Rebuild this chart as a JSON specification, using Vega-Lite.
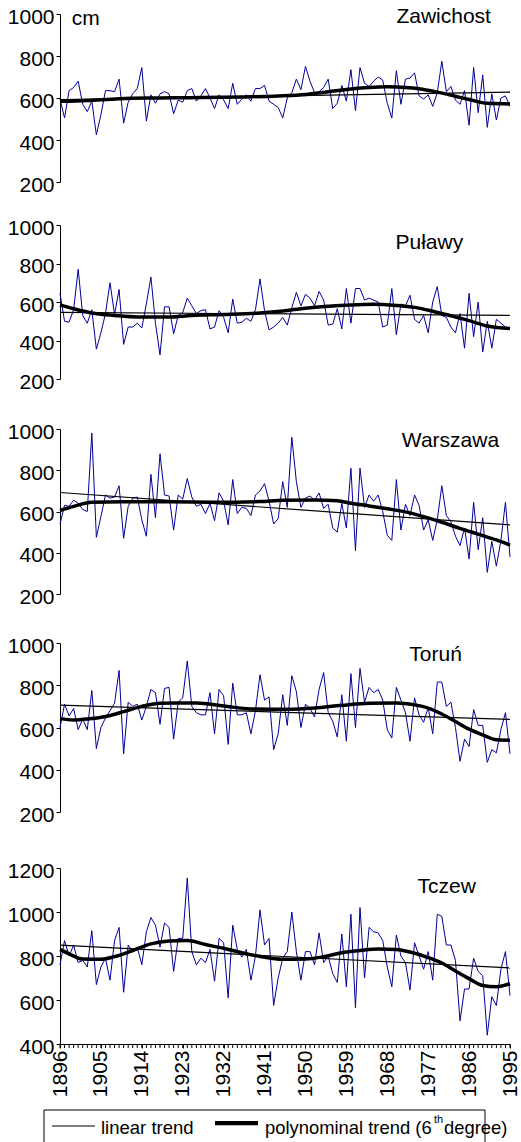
{
"$schema":"https://vega.github.io/schema/vega-lite/v6.json",
"padding":{"left":7,"top":5,"right":5,"bottom":0},
"background":"white",
"config":{"view":{"stroke":null},"font":"Liberation Sans","axis":{"grid":false,"labelFont":"Liberation Sans","labelColor":"#000","domainColor":"#000","tickColor":"#000","labelFontSize":21,"tickSize":4,"labelPadding":2,"title":null,"format":"d","labelOverlap":false,"labelBound":false,"labelFlush":false}},
"datasets":{
"obs":[
{"year":1896,"Zawichost":595,"Pulawy":645,"Warszawa":540,"Torun":600,"Tczew":760},
{"year":1897,"Zawichost":505,"Pulawy":500,"Warszawa":630,"Torun":710,"Tczew":870},
{"year":1898,"Zawichost":635,"Pulawy":495,"Warszawa":625,"Torun":655,"Tczew":800},
{"year":1899,"Zawichost":650,"Pulawy":560,"Warszawa":655,"Torun":690,"Tczew":850},
{"year":1900,"Zawichost":680,"Pulawy":770,"Warszawa":640,"Torun":590,"Tczew":770},
{"year":1901,"Zawichost":570,"Pulawy":530,"Warszawa":610,"Torun":640,"Tczew":780},
{"year":1902,"Zawichost":535,"Pulawy":490,"Warszawa":600,"Torun":590,"Tczew":750},
{"year":1903,"Zawichost":585,"Pulawy":560,"Warszawa":980,"Torun":775,"Tczew":915},
{"year":1904,"Zawichost":425,"Pulawy":355,"Warszawa":475,"Torun":500,"Tczew":670},
{"year":1905,"Zawichost":520,"Pulawy":440,"Warszawa":575,"Torun":600,"Tczew":750},
{"year":1906,"Zawichost":635,"Pulawy":540,"Warszawa":680,"Torun":645,"Tczew":790},
{"year":1907,"Zawichost":635,"Pulawy":700,"Warszawa":665,"Torun":680,"Tczew":690},
{"year":1908,"Zawichost":630,"Pulawy":535,"Warszawa":670,"Torun":715,"Tczew":870},
{"year":1909,"Zawichost":690,"Pulawy":665,"Warszawa":725,"Torun":870,"Tczew":930},
{"year":1910,"Zawichost":480,"Pulawy":380,"Warszawa":470,"Torun":475,"Tczew":635},
{"year":1911,"Zawichost":580,"Pulawy":470,"Warszawa":625,"Torun":720,"Tczew":850},
{"year":1912,"Zawichost":620,"Pulawy":470,"Warszawa":665,"Torun":700,"Tczew":820},
{"year":1913,"Zawichost":645,"Pulawy":490,"Warszawa":670,"Torun":710,"Tczew":840},
{"year":1914,"Zawichost":745,"Pulawy":465,"Warszawa":560,"Torun":635,"Tczew":760},
{"year":1915,"Zawichost":490,"Pulawy":590,"Warszawa":480,"Torun":700,"Tczew":910},
{"year":1916,"Zawichost":615,"Pulawy":730,"Warszawa":780,"Torun":780,"Tczew":975},
{"year":1917,"Zawichost":575,"Pulawy":490,"Warszawa":570,"Torun":765,"Tczew":940},
{"year":1918,"Zawichost":620,"Pulawy":325,"Warszawa":880,"Torun":615,"Tczew":840},
{"year":1919,"Zawichost":630,"Pulawy":575,"Warszawa":680,"Torun":785,"Tczew":950},
{"year":1920,"Zawichost":620,"Pulawy":575,"Warszawa":675,"Torun":790,"Tczew":930},
{"year":1921,"Zawichost":525,"Pulawy":435,"Warszawa":510,"Torun":545,"Tczew":730},
{"year":1922,"Zawichost":590,"Pulawy":530,"Warszawa":680,"Torun":720,"Tczew":880},
{"year":1923,"Zawichost":580,"Pulawy":545,"Warszawa":660,"Torun":740,"Tczew":880},
{"year":1924,"Zawichost":635,"Pulawy":620,"Warszawa":760,"Torun":915,"Tczew":1155},
{"year":1925,"Zawichost":645,"Pulawy":580,"Warszawa":670,"Torun":700,"Tczew":820},
{"year":1926,"Zawichost":585,"Pulawy":540,"Warszawa":625,"Torun":670,"Tczew":760},
{"year":1927,"Zawichost":610,"Pulawy":555,"Warszawa":635,"Torun":660,"Tczew":790},
{"year":1928,"Zawichost":645,"Pulawy":560,"Warszawa":590,"Torun":660,"Tczew":770},
{"year":1929,"Zawichost":600,"Pulawy":460,"Warszawa":640,"Torun":765,"Tczew":830},
{"year":1930,"Zawichost":550,"Pulawy":470,"Warszawa":555,"Torun":570,"Tczew":685},
{"year":1931,"Zawichost":615,"Pulawy":555,"Warszawa":690,"Torun":780,"Tczew":880},
{"year":1932,"Zawichost":590,"Pulawy":520,"Warszawa":650,"Torun":750,"Tczew":860},
{"year":1933,"Zawichost":550,"Pulawy":440,"Warszawa":535,"Torun":520,"Tczew":610},
{"year":1934,"Zawichost":670,"Pulawy":615,"Warszawa":755,"Torun":810,"Tczew":940},
{"year":1935,"Zawichost":570,"Pulawy":490,"Warszawa":590,"Torun":660,"Tczew":830},
{"year":1936,"Zawichost":595,"Pulawy":495,"Warszawa":620,"Torun":660,"Tczew":795},
{"year":1937,"Zawichost":615,"Pulawy":515,"Warszawa":615,"Torun":670,"Tczew":830},
{"year":1938,"Zawichost":585,"Pulawy":500,"Warszawa":580,"Torun":570,"Tczew":690},
{"year":1939,"Zawichost":645,"Pulawy":560,"Warszawa":680,"Torun":680,"Tczew":800},
{"year":1940,"Zawichost":645,"Pulawy":720,"Warszawa":700,"Torun":850,"Tczew":1010},
{"year":1941,"Zawichost":660,"Pulawy":555,"Warszawa":735,"Torun":730,"Tczew":850},
{"year":1942,"Zawichost":585,"Pulawy":455,"Warszawa":650,"Torun":745,"Tczew":880},
{"year":1943,"Zawichost":570,"Pulawy":470,"Warszawa":540,"Torun":495,"Tczew":575},
{"year":1944,"Zawichost":555,"Pulawy":490,"Warszawa":565,"Torun":570,"Tczew":700},
{"year":1945,"Zawichost":505,"Pulawy":520,"Warszawa":745,"Torun":755,"Tczew":790},
{"year":1946,"Zawichost":600,"Pulawy":480,"Warszawa":620,"Torun":610,"Tczew":820},
{"year":1947,"Zawichost":625,"Pulawy":570,"Warszawa":960,"Torun":845,"Tczew":1000},
{"year":1948,"Zawichost":690,"Pulawy":650,"Warszawa":745,"Torun":770,"Tczew":820},
{"year":1949,"Zawichost":640,"Pulawy":580,"Warszawa":620,"Torun":600,"Tczew":690},
{"year":1950,"Zawichost":750,"Pulawy":640,"Warszawa":665,"Torun":710,"Tczew":820},
{"year":1951,"Zawichost":680,"Pulawy":620,"Warszawa":675,"Torun":690,"Tczew":820},
{"year":1952,"Zawichost":625,"Pulawy":580,"Warszawa":655,"Torun":650,"Tczew":760},
{"year":1953,"Zawichost":630,"Pulawy":655,"Warszawa":690,"Torun":780,"Tczew":905},
{"year":1954,"Zawichost":650,"Pulawy":610,"Warszawa":615,"Torun":860,"Tczew":770},
{"year":1955,"Zawichost":690,"Pulawy":480,"Warszawa":635,"Torun":670,"Tczew":800},
{"year":1956,"Zawichost":550,"Pulawy":485,"Warszawa":520,"Torun":630,"Tczew":720},
{"year":1957,"Zawichost":575,"Pulawy":565,"Warszawa":500,"Torun":555,"Tczew":680},
{"year":1958,"Zawichost":660,"Pulawy":460,"Warszawa":640,"Torun":755,"Tczew":900},
{"year":1959,"Zawichost":585,"Pulawy":670,"Warszawa":520,"Torun":535,"Tczew":660},
{"year":1960,"Zawichost":735,"Pulawy":490,"Warszawa":810,"Torun":855,"Tczew":990},
{"year":1961,"Zawichost":540,"Pulawy":670,"Warszawa":410,"Torun":600,"Tczew":565},
{"year":1962,"Zawichost":745,"Pulawy":670,"Warszawa":810,"Torun":880,"Tczew":1020},
{"year":1963,"Zawichost":670,"Pulawy":610,"Warszawa":620,"Torun":720,"Tczew":700},
{"year":1964,"Zawichost":655,"Pulawy":620,"Warszawa":680,"Torun":790,"Tczew":930},
{"year":1965,"Zawichost":680,"Pulawy":610,"Warszawa":650,"Torun":765,"Tczew":910},
{"year":1966,"Zawichost":700,"Pulawy":600,"Warszawa":680,"Torun":780,"Tczew":905},
{"year":1967,"Zawichost":685,"Pulawy":470,"Warszawa":600,"Torun":730,"Tczew":870},
{"year":1968,"Zawichost":575,"Pulawy":480,"Warszawa":485,"Torun":590,"Tczew":750},
{"year":1969,"Zawichost":505,"Pulawy":670,"Warszawa":460,"Torun":550,"Tczew":660},
{"year":1970,"Zawichost":730,"Pulawy":430,"Warszawa":755,"Torun":790,"Tczew":895},
{"year":1971,"Zawichost":570,"Pulawy":590,"Warszawa":510,"Torun":730,"Tczew":800},
{"year":1972,"Zawichost":690,"Pulawy":580,"Warszawa":635,"Torun":670,"Tczew":770},
{"year":1973,"Zawichost":695,"Pulawy":635,"Warszawa":580,"Torun":535,"Tczew":645},
{"year":1974,"Zawichost":720,"Pulawy":510,"Warszawa":680,"Torun":740,"Tczew":860},
{"year":1975,"Zawichost":610,"Pulawy":490,"Warszawa":630,"Torun":660,"Tczew":800},
{"year":1976,"Zawichost":595,"Pulawy":530,"Warszawa":510,"Torun":625,"Tczew":740},
{"year":1977,"Zawichost":615,"Pulawy":440,"Warszawa":560,"Torun":695,"Tczew":820},
{"year":1978,"Zawichost":560,"Pulawy":600,"Warszawa":460,"Torun":570,"Tczew":690},
{"year":1979,"Zawichost":625,"Pulawy":680,"Warszawa":560,"Torun":815,"Tczew":990},
{"year":1980,"Zawichost":775,"Pulawy":530,"Warszawa":725,"Torun":815,"Tczew":980},
{"year":1981,"Zawichost":630,"Pulawy":520,"Warszawa":580,"Torun":700,"Tczew":850},
{"year":1982,"Zawichost":655,"Pulawy":470,"Warszawa":550,"Torun":720,"Tczew":850},
{"year":1983,"Zawichost":590,"Pulawy":440,"Warszawa":480,"Torun":600,"Tczew":780},
{"year":1984,"Zawichost":570,"Pulawy":540,"Warszawa":435,"Torun":440,"Tczew":505},
{"year":1985,"Zawichost":635,"Pulawy":360,"Warszawa":520,"Torun":545,"Tczew":650},
{"year":1986,"Zawichost":470,"Pulawy":645,"Warszawa":370,"Torun":510,"Tczew":650},
{"year":1987,"Zawichost":745,"Pulawy":420,"Warszawa":645,"Torun":685,"Tczew":790},
{"year":1988,"Zawichost":530,"Pulawy":600,"Warszawa":415,"Torun":610,"Tczew":730},
{"year":1989,"Zawichost":710,"Pulawy":340,"Warszawa":570,"Torun":610,"Tczew":710},
{"year":1990,"Zawichost":460,"Pulawy":500,"Warszawa":305,"Torun":435,"Tczew":440},
{"year":1991,"Zawichost":620,"Pulawy":360,"Warszawa":455,"Torun":495,"Tczew":615},
{"year":1992,"Zawichost":495,"Pulawy":510,"Warszawa":335,"Torun":480,"Tczew":575},
{"year":1993,"Zawichost":600,"Pulawy":490,"Warszawa":460,"Torun":590,"Tczew":740},
{"year":1994,"Zawichost":610,"Pulawy":470,"Warszawa":645,"Torun":670,"Tczew":820},
{"year":1995,"Zawichost":560,"Pulawy":460,"Warszawa":380,"Torun":475,"Tczew":620}
],
"trend":[
{"s":"Zawichost","k":"lin","year":1896,"v":592},{"s":"Zawichost","k":"lin","year":1995,"v":628},
{"s":"Zawichost","k":"poly","year":1896,"v":584},{"s":"Zawichost","k":"poly","year":1902,"v":588},{"s":"Zawichost","k":"poly","year":1909,"v":597},{"s":"Zawichost","k":"poly","year":1918,"v":600},{"s":"Zawichost","k":"poly","year":1927,"v":602},{"s":"Zawichost","k":"poly","year":1936,"v":605},{"s":"Zawichost","k":"poly","year":1944,"v":610},{"s":"Zawichost","k":"poly","year":1950,"v":617},{"s":"Zawichost","k":"poly","year":1955,"v":630},{"s":"Zawichost","k":"poly","year":1960,"v":643},{"s":"Zawichost","k":"poly","year":1964,"v":650},{"s":"Zawichost","k":"poly","year":1968,"v":653},{"s":"Zawichost","k":"poly","year":1972,"v":650},{"s":"Zawichost","k":"poly","year":1975,"v":644},{"s":"Zawichost","k":"poly","year":1979,"v":628},{"s":"Zawichost","k":"poly","year":1983,"v":608},{"s":"Zawichost","k":"poly","year":1986,"v":593},{"s":"Zawichost","k":"poly","year":1990,"v":575},{"s":"Zawichost","k":"poly","year":1995,"v":572},
{"s":"Pulawy","k":"lin","year":1896,"v":546},{"s":"Pulawy","k":"lin","year":1995,"v":530},
{"s":"Pulawy","k":"poly","year":1896,"v":585},{"s":"Pulawy","k":"poly","year":1899,"v":565},{"s":"Pulawy","k":"poly","year":1903,"v":543},{"s":"Pulawy","k":"poly","year":1908,"v":530},{"s":"Pulawy","k":"poly","year":1913,"v":522},{"s":"Pulawy","k":"poly","year":1920,"v":522},{"s":"Pulawy","k":"poly","year":1925,"v":530},{"s":"Pulawy","k":"poly","year":1932,"v":535},{"s":"Pulawy","k":"poly","year":1940,"v":543},{"s":"Pulawy","k":"poly","year":1945,"v":553},{"s":"Pulawy","k":"poly","year":1950,"v":568},{"s":"Pulawy","k":"poly","year":1955,"v":578},{"s":"Pulawy","k":"poly","year":1960,"v":585},{"s":"Pulawy","k":"poly","year":1965,"v":588},{"s":"Pulawy","k":"poly","year":1970,"v":582},{"s":"Pulawy","k":"poly","year":1974,"v":572},{"s":"Pulawy","k":"poly","year":1978,"v":552},{"s":"Pulawy","k":"poly","year":1982,"v":528},{"s":"Pulawy","k":"poly","year":1986,"v":503},{"s":"Pulawy","k":"poly","year":1990,"v":475},{"s":"Pulawy","k":"poly","year":1995,"v":462},
{"s":"Warszawa","k":"lin","year":1896,"v":692},{"s":"Warszawa","k":"lin","year":1995,"v":535},
{"s":"Warszawa","k":"poly","year":1896,"v":605},{"s":"Warszawa","k":"poly","year":1899,"v":625},{"s":"Warszawa","k":"poly","year":1903,"v":645},{"s":"Warszawa","k":"poly","year":1910,"v":647},{"s":"Warszawa","k":"poly","year":1920,"v":647},{"s":"Warszawa","k":"poly","year":1930,"v":645},{"s":"Warszawa","k":"poly","year":1940,"v":648},{"s":"Warszawa","k":"poly","year":1945,"v":655},{"s":"Warszawa","k":"poly","year":1952,"v":656},{"s":"Warszawa","k":"poly","year":1957,"v":652},{"s":"Warszawa","k":"poly","year":1960,"v":640},{"s":"Warszawa","k":"poly","year":1964,"v":627},{"s":"Warszawa","k":"poly","year":1968,"v":613},{"s":"Warszawa","k":"poly","year":1972,"v":598},{"s":"Warszawa","k":"poly","year":1976,"v":575},{"s":"Warszawa","k":"poly","year":1980,"v":548},{"s":"Warszawa","k":"poly","year":1984,"v":518},{"s":"Warszawa","k":"poly","year":1988,"v":490},{"s":"Warszawa","k":"poly","year":1992,"v":462},{"s":"Warszawa","k":"poly","year":1995,"v":437},
{"s":"Torun","k":"lin","year":1896,"v":706},{"s":"Torun","k":"lin","year":1995,"v":638},
{"s":"Torun","k":"poly","year":1896,"v":642},{"s":"Torun","k":"poly","year":1899,"v":636},{"s":"Torun","k":"poly","year":1902,"v":640},{"s":"Torun","k":"poly","year":1906,"v":652},{"s":"Torun","k":"poly","year":1910,"v":675},{"s":"Torun","k":"poly","year":1914,"v":700},{"s":"Torun","k":"poly","year":1918,"v":715},{"s":"Torun","k":"poly","year":1926,"v":716},{"s":"Torun","k":"poly","year":1932,"v":702},{"s":"Torun","k":"poly","year":1938,"v":688},{"s":"Torun","k":"poly","year":1946,"v":686},{"s":"Torun","k":"poly","year":1952,"v":692},{"s":"Torun","k":"poly","year":1958,"v":705},{"s":"Torun","k":"poly","year":1964,"v":715},{"s":"Torun","k":"poly","year":1970,"v":716},{"s":"Torun","k":"poly","year":1974,"v":707},{"s":"Torun","k":"poly","year":1977,"v":692},{"s":"Torun","k":"poly","year":1980,"v":664},{"s":"Torun","k":"poly","year":1983,"v":628},{"s":"Torun","k":"poly","year":1986,"v":592},{"s":"Torun","k":"poly","year":1989,"v":565},{"s":"Torun","k":"poly","year":1992,"v":542},{"s":"Torun","k":"poly","year":1995,"v":540},
{"s":"Tczew","k":"lin","year":1896,"v":849},{"s":"Tczew","k":"lin","year":1995,"v":746},
{"s":"Tczew","k":"poly","year":1896,"v":830},{"s":"Tczew","k":"poly","year":1898,"v":810},{"s":"Tczew","k":"poly","year":1901,"v":786},{"s":"Tczew","k":"poly","year":1905,"v":785},{"s":"Tczew","k":"poly","year":1908,"v":797},{"s":"Tczew","k":"poly","year":1912,"v":825},{"s":"Tczew","k":"poly","year":1916,"v":855},{"s":"Tczew","k":"poly","year":1920,"v":868},{"s":"Tczew","k":"poly","year":1924,"v":870},{"s":"Tczew","k":"poly","year":1928,"v":852},{"s":"Tczew","k":"poly","year":1932,"v":835},{"s":"Tczew","k":"poly","year":1936,"v":815},{"s":"Tczew","k":"poly","year":1940,"v":798},{"s":"Tczew","k":"poly","year":1945,"v":785},{"s":"Tczew","k":"poly","year":1950,"v":786},{"s":"Tczew","k":"poly","year":1954,"v":797},{"s":"Tczew","k":"poly","year":1958,"v":815},{"s":"Tczew","k":"poly","year":1962,"v":825},{"s":"Tczew","k":"poly","year":1966,"v":832},{"s":"Tczew","k":"poly","year":1970,"v":830},{"s":"Tczew","k":"poly","year":1973,"v":818},{"s":"Tczew","k":"poly","year":1977,"v":793},{"s":"Tczew","k":"poly","year":1980,"v":768},{"s":"Tczew","k":"poly","year":1983,"v":732},{"s":"Tczew","k":"poly","year":1986,"v":697},{"s":"Tczew","k":"poly","year":1989,"v":666},{"s":"Tczew","k":"poly","year":1992,"v":660},{"s":"Tczew","k":"poly","year":1995,"v":674}
]
},
"bounds":"flush",
"spacing":0,
"vconcat":[
{"width":450,"height":168,"layer":[
 {"data":{"name":"obs"},"mark":{"type":"line","color":"#000099","strokeWidth":1},"encoding":{"x":{"field":"year","type":"quantitative","scale":{"domain":[1896,1995],"nice":false},"axis":null},"y":{"field":"Zawichost","type":"quantitative","scale":{"domain":[200,1000],"nice":false},"axis":{"values":[200,400,600,800,1000],"labelOverlap":false,"labelOffset":3}}}},
 {"data":{"name":"trend"},"transform":[{"filter":"datum.s=='Zawichost' && datum.k=='lin'"}],"mark":{"type":"line","color":"#000","strokeWidth":1.2},"encoding":{"x":{"field":"year","type":"quantitative","axis":null},"y":{"field":"v","type":"quantitative","axis":{"values":[200,400,600,800,1000],"labelOverlap":false,"labelOffset":3}}}},
 {"data":{"name":"trend"},"transform":[{"filter":"datum.s=='Zawichost' && datum.k=='poly'"}],"mark":{"type":"line","color":"#000","strokeWidth":3.5,"interpolate":"monotone"},"encoding":{"x":{"field":"year","type":"quantitative","axis":null},"y":{"field":"v","type":"quantitative","axis":{"values":[200,400,600,800,1000],"labelOverlap":false,"labelOffset":3}}}},
 {"data":{"values":[{}]},"mark":{"type":"text","text":"cm","align":"left","baseline":"middle","fontSize":21,"color":"#000"},"encoding":{"x":{"datum":1898.6,"axis":null},"y":{"datum":976,"axis":{"values":[200,400,600,800,1000],"labelOverlap":false,"labelOffset":3}}}},
 {"data":{"values":[{}]},"mark":{"type":"text","text":"Zawichost","align":"right","baseline":"middle","fontSize":21,"color":"#000"},"encoding":{"x":{"datum":1990.8,"axis":null},"y":{"datum":986,"axis":{"values":[200,400,600,800,1000],"labelOverlap":false,"labelOffset":3}}}}
]},
{"width":450,"height":43,"data":{"values":[{}]},"mark":{"type":"point","opacity":0},"encoding":{}},
{"width":450,"height":154,"layer":[
 {"data":{"name":"obs"},"mark":{"type":"line","color":"#000099","strokeWidth":1},"encoding":{"x":{"field":"year","type":"quantitative","scale":{"domain":[1896,1995],"nice":false},"axis":null},"y":{"field":"Pulawy","type":"quantitative","scale":{"domain":[200,1000],"nice":false},"axis":{"values":[200,400,600,800,1000],"labelOverlap":false,"labelOffset":3}}}},
 {"data":{"name":"trend"},"transform":[{"filter":"datum.s=='Pulawy' && datum.k=='lin'"}],"mark":{"type":"line","color":"#000","strokeWidth":1.2},"encoding":{"x":{"field":"year","type":"quantitative","axis":null},"y":{"field":"v","type":"quantitative","axis":{"values":[200,400,600,800,1000],"labelOverlap":false,"labelOffset":3}}}},
 {"data":{"name":"trend"},"transform":[{"filter":"datum.s=='Pulawy' && datum.k=='poly'"}],"mark":{"type":"line","color":"#000","strokeWidth":3.5,"interpolate":"monotone"},"encoding":{"x":{"field":"year","type":"quantitative","axis":null},"y":{"field":"v","type":"quantitative","axis":{"values":[200,400,600,800,1000],"labelOverlap":false,"labelOffset":3}}}},
 {"data":{"values":[{}]},"mark":{"type":"text","text":"Puławy","align":"right","baseline":"middle","fontSize":21,"color":"#000"},"encoding":{"x":{"datum":1984.7,"axis":null},"y":{"datum":906,"axis":{"values":[200,400,600,800,1000],"labelOverlap":false,"labelOffset":3}}}}
]},
{"width":450,"height":50,"data":{"values":[{}]},"mark":{"type":"point","opacity":0},"encoding":{}},
{"width":450,"height":165,"layer":[
 {"data":{"name":"obs"},"mark":{"type":"line","color":"#000099","strokeWidth":1},"encoding":{"x":{"field":"year","type":"quantitative","scale":{"domain":[1896,1995],"nice":false},"axis":null},"y":{"field":"Warszawa","type":"quantitative","scale":{"domain":[200,1000],"nice":false},"axis":{"values":[200,400,600,800,1000],"labelOverlap":false,"labelOffset":3}}}},
 {"data":{"name":"trend"},"transform":[{"filter":"datum.s=='Warszawa' && datum.k=='lin'"}],"mark":{"type":"line","color":"#000","strokeWidth":1.2},"encoding":{"x":{"field":"year","type":"quantitative","axis":null},"y":{"field":"v","type":"quantitative","axis":{"values":[200,400,600,800,1000],"labelOverlap":false,"labelOffset":3}}}},
 {"data":{"name":"trend"},"transform":[{"filter":"datum.s=='Warszawa' && datum.k=='poly'"}],"mark":{"type":"line","color":"#000","strokeWidth":3.5,"interpolate":"monotone"},"encoding":{"x":{"field":"year","type":"quantitative","axis":null},"y":{"field":"v","type":"quantitative","axis":{"values":[200,400,600,800,1000],"labelOverlap":false,"labelOffset":3}}}},
 {"data":{"values":[{}]},"mark":{"type":"text","text":"Warszawa","align":"right","baseline":"middle","fontSize":21,"color":"#000"},"encoding":{"x":{"datum":1992.6,"axis":null},"y":{"datum":942,"axis":{"values":[200,400,600,800,1000],"labelOverlap":false,"labelOffset":3}}}}
]},
{"width":450,"height":49,"data":{"values":[{}]},"mark":{"type":"point","opacity":0},"encoding":{}},
{"width":450,"height":169,"layer":[
 {"data":{"name":"obs"},"mark":{"type":"line","color":"#000099","strokeWidth":1},"encoding":{"x":{"field":"year","type":"quantitative","scale":{"domain":[1896,1995],"nice":false},"axis":null},"y":{"field":"Torun","type":"quantitative","scale":{"domain":[200,1000],"nice":false},"axis":{"values":[200,400,600,800,1000],"labelOverlap":false,"labelOffset":3}}}},
 {"data":{"name":"trend"},"transform":[{"filter":"datum.s=='Torun' && datum.k=='lin'"}],"mark":{"type":"line","color":"#000","strokeWidth":1.2},"encoding":{"x":{"field":"year","type":"quantitative","axis":null},"y":{"field":"v","type":"quantitative","axis":{"values":[200,400,600,800,1000],"labelOverlap":false,"labelOffset":3}}}},
 {"data":{"name":"trend"},"transform":[{"filter":"datum.s=='Torun' && datum.k=='poly'"}],"mark":{"type":"line","color":"#000","strokeWidth":3.5,"interpolate":"monotone"},"encoding":{"x":{"field":"year","type":"quantitative","axis":null},"y":{"field":"v","type":"quantitative","axis":{"values":[200,400,600,800,1000],"labelOverlap":false,"labelOffset":3}}}},
 {"data":{"values":[{}]},"mark":{"type":"text","text":"Toruń","align":"right","baseline":"middle","fontSize":21,"color":"#000"},"encoding":{"x":{"datum":1984.4,"axis":null},"y":{"datum":943,"axis":{"values":[200,400,600,800,1000],"labelOverlap":false,"labelOffset":3}}}}
]},
{"width":450,"height":56,"data":{"values":[{}]},"mark":{"type":"point","opacity":0},"encoding":{}},
{"width":450,"height":176,"layer":[
 {"data":{"name":"obs"},"mark":{"type":"tick","orient":"vertical","size":4,"thickness":1,"color":"#000","yOffset":2,"opacity":1},"encoding":{"x":{"field":"year","type":"quantitative","scale":{"domain":[1896,1995],"nice":false},"axis":{"values":[1896,1905,1914,1923,1932,1941,1950,1959,1968,1977,1986,1995],"labelAngle":-90,"labelOverlap":false}},"y":{"datum":400,"scale":{"domain":[400,1200],"nice":false},"axis":{"values":[400,600,800,1000,1200],"labelOverlap":false,"labelOffset":3}}}},
 {"data":{"name":"obs"},"mark":{"type":"line","color":"#000099","strokeWidth":1},"encoding":{"x":{"field":"year","type":"quantitative","axis":{"values":[1896,1905,1914,1923,1932,1941,1950,1959,1968,1977,1986,1995],"labelAngle":-90,"labelOverlap":false}},"y":{"field":"Tczew","type":"quantitative","axis":{"values":[400,600,800,1000,1200],"labelOverlap":false,"labelOffset":3}}}},
 {"data":{"name":"trend"},"transform":[{"filter":"datum.s=='Tczew' && datum.k=='lin'"}],"mark":{"type":"line","color":"#000","strokeWidth":1.2},"encoding":{"x":{"field":"year","type":"quantitative","axis":{"values":[1896,1905,1914,1923,1932,1941,1950,1959,1968,1977,1986,1995],"labelAngle":-90,"labelOverlap":false}},"y":{"field":"v","type":"quantitative","axis":{"values":[400,600,800,1000,1200],"labelOverlap":false,"labelOffset":3}}}},
 {"data":{"name":"trend"},"transform":[{"filter":"datum.s=='Tczew' && datum.k=='poly'"}],"mark":{"type":"line","color":"#000","strokeWidth":3.5,"interpolate":"monotone"},"encoding":{"x":{"field":"year","type":"quantitative","axis":{"values":[1896,1905,1914,1923,1932,1941,1950,1959,1968,1977,1986,1995],"labelAngle":-90,"labelOverlap":false}},"y":{"field":"v","type":"quantitative","axis":{"values":[400,600,800,1000,1200],"labelOverlap":false,"labelOffset":3}}}},
 {"data":{"values":[{}]},"mark":{"type":"text","text":"Tczew","align":"right","baseline":"middle","fontSize":21,"color":"#000"},"encoding":{"x":{"datum":1987.5,"axis":{"values":[1896,1905,1914,1923,1932,1941,1950,1959,1968,1977,1986,1995],"labelAngle":-90,"labelOverlap":false}},"y":{"datum":1114,"axis":{"values":[400,600,800,1000,1200],"labelOverlap":false,"labelOffset":3}}}}
]},
{"width":450,"height":66,"data":{"values":[{}]},"mark":{"type":"point","opacity":0},"encoding":{}},
{"width":450,"height":40,"data":{"values":[{}]},"layer":[
 {"mark":{"type":"rect","fillOpacity":0,"stroke":"#000","strokeWidth":1},"encoding":{"x":{"datum":-16,"type":"quantitative","scale":{"domain":[0,450],"nice":false},"axis":null},"x2":{"datum":425},"y":{"datum":0,"type":"quantitative","scale":{"domain":[0,40],"nice":false,"reverse":true},"axis":null},"y2":{"datum":40}}},
 {"mark":{"type":"rule","color":"#000","strokeWidth":1.2},"encoding":{"x":{"datum":-8,"type":"quantitative","axis":null},"x2":{"datum":35},"y":{"datum":16,"type":"quantitative","axis":null}}},
 {"mark":{"type":"text","text":"linear trend","align":"left","baseline":"alphabetic","fontSize":18.5,"color":"#000"},"encoding":{"x":{"datum":41,"type":"quantitative","axis":null},"y":{"datum":23.6,"type":"quantitative","axis":null}}},
 {"mark":{"type":"rule","color":"#000","strokeWidth":4.3},"encoding":{"x":{"datum":155,"type":"quantitative","axis":null},"x2":{"datum":198},"y":{"datum":13.1,"type":"quantitative","axis":null}}},
 {"mark":{"type":"text","text":"polynominal trend (6","align":"left","baseline":"alphabetic","fontSize":18.4,"color":"#000"},"encoding":{"x":{"datum":205,"type":"quantitative","axis":null},"y":{"datum":23.6,"type":"quantitative","axis":null}}},
 {"mark":{"type":"text","text":"th","align":"left","baseline":"alphabetic","fontSize":11,"color":"#000"},"encoding":{"x":{"datum":374,"type":"quantitative","axis":null},"y":{"datum":13.3,"type":"quantitative","axis":null}}},
 {"mark":{"type":"text","text":"degree)","align":"left","baseline":"alphabetic","fontSize":18.4,"color":"#000"},"encoding":{"x":{"datum":384,"type":"quantitative","axis":null},"y":{"datum":23.6,"type":"quantitative","axis":null}}}
]}
]
}
